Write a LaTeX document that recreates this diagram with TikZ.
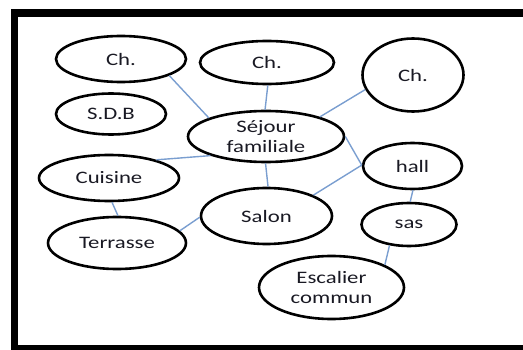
\documentclass[tikz,border=0pt]{standalone}
\usepackage{fontspec}
\setmainfont{Carlito}[FakeStretch=1.3]
\usetikzlibrary{shapes.geometric}
\definecolor{linkblue}{RGB}{122,158,208}
\definecolor{roomtext}{RGB}{25,25,35}

\begin{document}
\begin{tikzpicture}[
  x=1pt, y=-1pt,
  every node/.style={font=\fontsize{17.5}{19.5}\selectfont, text=roomtext, align=center},
  room/.style={ellipse, draw=black, line width=2.6pt, inner sep=0pt},
  link/.style={draw=linkblue, line width=1.4pt},
  frame/.style={draw=black, line width=7.5pt},
]
  \useasboundingbox (0,0) rectangle (523,350);
  \clip (0,0) rectangle (523,350);
  \draw[frame] (14.5,13) rectangle (560,349);

  \node[room, minimum width=130, minimum height=46] (ch1) at (121,59) {Ch.};
  \node[room, minimum width=134, minimum height=43] (ch2) at (267,62.5) {Ch.};
  \node[room, minimum width=101, minimum height=73] (ch3) at (413,75) {Ch.};
  \node[room, minimum width=110, minimum height=41] (sdb) at (111,114) {S.D.B};
  \node[room, minimum width=156, minimum height=51] (sejour) at (266,136.5) {Séjour\\familiale};
  \node[room, minimum width=99, minimum height=46] (hall) at (412.5,166) {hall};
  \node[room, minimum width=140, minimum height=46] (cuisine) at (109,178) {Cuisine};
  \node[room, minimum width=131, minimum height=56] (salon) at (266.5,216) {Salon};
  \node[room, minimum width=95, minimum height=43] (sas) at (409,224.5) {sas};
  \node[room, minimum width=138, minimum height=52] (terrasse) at (117,243) {Terrasse};
  \node[room, minimum width=145, minimum height=63] (escalier) at (331.5,287.5) {Escalier\\commun};

  \draw[link] (ch1.-19) -- (sejour.162);
  \draw[link] (ch2.-88) -- (sejour.92);
  \draw[link] (ch3.-163) -- (sejour.20);
  \draw[link] (sejour.0) -- (hall.179);
  \draw[link] (salon.24) -- (hall.179);
  \draw[link] (sejour.-161) -- (cuisine.21);
  \draw[link] (sejour.-91) -- (salon.87);
  \draw[link] (salon.-179) -- (terrasse.11);
  \draw[link] (cuisine.-83) -- (terrasse.88);
  \draw[link] (hall.-89) -- (sas.87);
  \draw[link] (sas.-133) -- (escalier.23);
\end{tikzpicture}
\end{document}
